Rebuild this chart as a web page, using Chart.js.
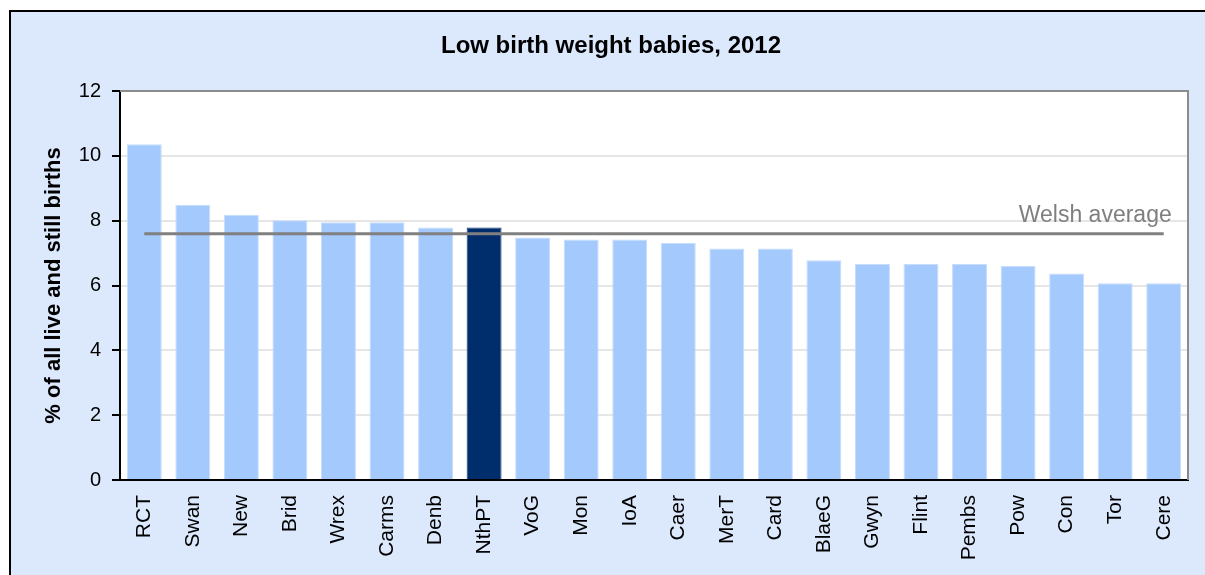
<!DOCTYPE html>
<html>
<head>
<meta charset="utf-8">
<script src="https://cdn.jsdelivr.net/npm/chart.js@4"></script>
<style>
  html, body { margin: 0; padding: 0; background: #fff; }
  #wrap { position: relative; width: 1205px; height: 575px; }
</style>
</head>
<body>
<div id="wrap"><canvas id="lbwChart" width="1205" height="575"></canvas></div>
<script>
const areas = ["RCT", "Swan", "New", "Brid", "Wrex", "Carms", "Denb", "NthPT", "VoG", "Mon", "IoA",
  "Caer", "MerT", "Card", "BlaeG", "Gwyn", "Flint", "Pembs", "Pow", "Con", "Tor", "Cere"];
const lowBirthWeight = [10.36, 8.48, 8.18, 8.01, 7.95, 7.95, 7.79, 7.79, 7.48, 7.42, 7.42,
  7.31, 7.14, 7.14, 6.78, 6.66, 6.66, 6.66, 6.61, 6.37, 6.07, 6.07];
const welshAverage = 7.6;
const highlightArea = "NthPT";
const yTicks = [0, 2, 4, 6, 8, 10, 12];

const FONT = "'Liberation Sans', Arial, sans-serif";

// frame, plot background, title, plot border
const framePlugin = {
  id: "frame",
  beforeDraw(chart) {
    const ctx = chart.ctx;
    const a = chart.chartArea;
    ctx.save();
    ctx.fillStyle = "#ffffff";
    ctx.fillRect(0, 0, chart.width, chart.height);
    ctx.fillStyle = "#dce9fd";
    ctx.fillRect(10, 11, chart.width - 10, chart.height - 11);
    ctx.fillStyle = "#000";
    ctx.fillRect(9, 10, chart.width - 9, 2);
    ctx.fillRect(9, 10, 2, chart.height - 10);
    ctx.fillStyle = "#ffffff";
    ctx.fillRect(a.left, a.top, a.right - a.left, a.bottom - a.top);
    ctx.restore();
  },
  afterDraw(chart) {
    const ctx = chart.ctx;
    const a = chart.chartArea;
    ctx.save();
    ctx.strokeStyle = "#8c8c8c";
    ctx.lineWidth = 2;
    ctx.beginPath();
    ctx.moveTo(a.left, a.top);
    ctx.lineTo(a.right, a.top);
    ctx.lineTo(a.right, a.bottom);
    ctx.stroke();
    ctx.fillStyle = "#000";
    ctx.font = "bold 24px " + FONT;
    ctx.textAlign = "center";
    ctx.textBaseline = "alphabetic";
    ctx.fillText("Low birth weight babies, 2012", 611, 53);
    ctx.restore();
  }
};

// label at the right end of the average line
const avgLabelPlugin = {
  id: "avgLabel",
  afterDatasetsDraw(chart) {
    const meta = chart.getDatasetMeta(1);
    const last = meta.data[meta.data.length - 1];
    if (!last) return;
    const ctx = chart.ctx;
    ctx.save();
    ctx.fillStyle = "#7f7f7f";
    ctx.font = "23px " + FONT;
    ctx.textAlign = "right";
    ctx.textBaseline = "alphabetic";
    ctx.fillText("Welsh average", last.x + 8, last.y - 12);
    ctx.restore();
  }
};

new Chart(document.getElementById("lbwChart"), {
  data: {
    labels: areas,
    datasets: [
      {
        type: "bar",
        label: "Low birth weight",
        data: lowBirthWeight,
        backgroundColor: areas.map((a) => (a === highlightArea ? "#002d6b" : "#a3c9fd")),
        borderColor: areas.map((a) => (a === highlightArea ? "#1a3f78" : "#c6ddfd")),
        borderWidth: 1,
        categoryPercentage: 1,
        barPercentage: 0.72,
        order: 1,
      },
      {
        type: "line",
        label: "Welsh average",
        data: areas.map(() => welshAverage),
        borderColor: "#808080",
        borderWidth: 3,
        pointRadius: 0,
        fill: false,
        order: 0,
      },
    ],
  },
  options: {
    responsive: false,
    animation: false,
    layout: { padding: { top: 91, right: 17, left: 0, bottom: 0 } },
    plugins: {
      legend: { display: false },
      tooltip: { enabled: false },
      title: { display: false },
    },
    scales: {
      x: {
        grid: { display: false, drawTicks: false },
        border: { display: true, color: "#000", width: 2 },
        ticks: {
          minRotation: 90,
          maxRotation: 90,
          padding: 15,
          color: "#000",
          font: { family: FONT, size: 21 },
        },
        afterFit(scale) { scale.height = 95; },
      },
      y: {
        min: 0,
        max: 12,
        afterBuildTicks(scale) { scale.ticks = yTicks.map((v) => ({ value: v })); },
        grid: {
          color: "#e6e6e6",
          lineWidth: 2,
          tickColor: "#000",
          tickWidth: 2,
          tickLength: 8,
        },
        border: { display: true, color: "#000", width: 2 },
        ticks: {
          padding: 11,
          color: "#000",
          font: { family: FONT, size: 20 },
        },
        title: {
          display: true,
          text: "% of all live and still births",
          color: "#000",
          font: { family: FONT, size: 22, weight: "bold" },
          padding: { top: 41, bottom: 0 },
        },
        afterFit(scale) { scale.width = 120; },
      },
    },
  },
  plugins: [framePlugin, avgLabelPlugin],
});
</script>
</body>
</html>
